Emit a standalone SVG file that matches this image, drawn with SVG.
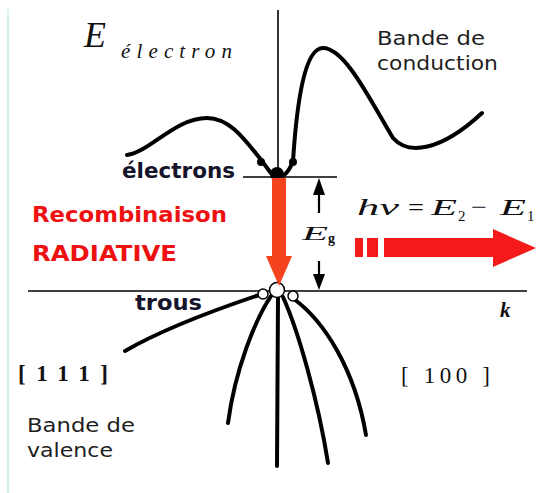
<svg xmlns="http://www.w3.org/2000/svg" width="536" height="493" viewBox="0 0 536 493">
<defs>
<style>
.band{fill:none;stroke:#000;stroke-width:4;stroke-linecap:round}
.axis{fill:none;stroke:#000;stroke-width:1.6}
.lbl{font-family:"DejaVu Sans",Verdana,sans-serif;font-size:19px;fill:#1e1e1e}
.bold{font-family:"DejaVu Sans","Liberation Sans",sans-serif;font-weight:bold;font-size:21px;fill:#14142a}
.red{font-family:"DejaVu Sans","Liberation Sans",sans-serif;font-weight:bold;font-size:22px;fill:#ee1111}
.math{font-family:"Liberation Serif","Times New Roman",serif;font-style:italic;fill:#111}
.serif{font-family:"Liberation Serif","Times New Roman",serif;fill:#111}
.hole{fill:#fff;stroke:#000;stroke-width:1.5}
</style>
</defs>
<rect width="536" height="493" fill="#fff"/>
<line x1="8" y1="9" x2="8" y2="493" stroke="#cdeed6" stroke-width="1.5"/>

<g id="axes">
<line class="axis" x1="278" y1="10" x2="278" y2="466"/>
<line class="axis" x1="28" y1="291" x2="527" y2="291"/>
<line class="axis" x1="243" y1="177" x2="337" y2="177"/>
</g>

<g id="conduction-band">
<path class="band" d="M127 155 C150 152,175 118,207 118 C230 118,245 140,262 161 C268 169,272 177,278 177 C286 177,290 169,293 161 C297 100,305 48,323 48 C345 48,370 100,393 138 C408 155,440 152,482 113"/>
<circle cx="261" cy="162" r="4"/>
<circle cx="293" cy="162" r="4"/>
<circle cx="277" cy="174" r="7"/>
</g>

<g id="valence-band">
<path class="band" d="M262 294 C235 303,170 325,125 351"/>
<path class="band" d="M271 296 C255 320,235 370,228 423"/>
<path class="band" d="M278 298 L277 466"/>
<path class="band" d="M283 297 C298 330,318 400,328 463"/>
<path class="band" d="M294 299 C325 322,355 370,366 435"/>
<circle class="hole" cx="263" cy="294" r="5"/>
<circle class="hole" cx="293" cy="296" r="5"/>
<circle class="hole" cx="277" cy="290" r="7.5"/>
</g>

<g id="recombination-arrow">
<rect x="272" y="178" width="14" height="80" fill="#f5431d"/>
<polygon points="266,256 292,256 279,286" fill="#f5431d"/>
</g>

<g id="gap-arrows">
<line x1="319" y1="190" x2="319" y2="213" stroke="#000" stroke-width="2.2"/>
<polygon points="313,195 325,195 319,178" fill="#000"/>
<line x1="319" y1="261" x2="319" y2="278" stroke="#000" stroke-width="2.2"/>
<polygon points="313,274 325,274 319,290" fill="#000"/>
</g>

<g id="photon-arrow" fill="#f41a1a">
<rect x="355" y="238" width="8" height="19"/>
<rect x="367" y="238" width="11" height="19"/>
<rect x="384" y="238" width="112" height="19"/>
<polygon points="493,229 536,248 493,267"/>
</g>

<g id="labels">
<text class="math" x="84" y="47" font-size="36">E</text>
<text class="math" x="121" y="58" font-size="21" textLength="111" lengthAdjust="spacing">électron</text>
<text class="lbl" x="377" y="45" textLength="108" lengthAdjust="spacingAndGlyphs">Bande de</text>
<text class="lbl" x="377" y="70" textLength="121" lengthAdjust="spacingAndGlyphs">conduction</text>
<text class="bold" x="122" y="178" textLength="113" lengthAdjust="spacingAndGlyphs">électrons</text>
<text class="red" x="32" y="222" textLength="195" lengthAdjust="spacingAndGlyphs">Recombinaison</text>
<text class="red" x="32" y="261" textLength="145" lengthAdjust="spacingAndGlyphs">RADIATIVE</text>
<text class="bold" x="135" y="310" textLength="67" lengthAdjust="spacingAndGlyphs">trous</text>
<text class="math" x="302" y="240" font-size="19" textLength="26" lengthAdjust="spacingAndGlyphs">E</text>
<text class="serif" x="328" y="243" font-size="14" font-weight="bold">g</text>
<text class="math" x="357" y="215" font-size="24" textLength="42" lengthAdjust="spacingAndGlyphs">hν</text>
<text class="serif" x="408" y="215" font-size="24" textLength="16" lengthAdjust="spacingAndGlyphs">=</text>
<text class="math" x="431" y="215" font-size="23" textLength="26" lengthAdjust="spacingAndGlyphs">E</text>
<text class="serif" x="458" y="221" font-size="15">2</text>
<text class="serif" x="471" y="215" font-size="24" textLength="16" lengthAdjust="spacingAndGlyphs">−</text>
<text class="math" x="500" y="215" font-size="23" textLength="26" lengthAdjust="spacingAndGlyphs">E</text>
<text class="serif" x="527" y="221" font-size="15">1</text>
<text class="math" x="500" y="317" font-size="21" font-weight="bold">k</text>
<text class="serif" x="18" y="381" font-size="23" font-weight="bold" textLength="90" lengthAdjust="spacing">[111]</text>
<text class="serif" x="401" y="383" font-size="23" textLength="89" lengthAdjust="spacing">[ 100 ]</text>
<text class="lbl" x="27" y="432" textLength="108" lengthAdjust="spacingAndGlyphs">Bande de</text>
<text class="lbl" x="27" y="457" textLength="86" lengthAdjust="spacingAndGlyphs">valence</text>
</g>
</svg>
